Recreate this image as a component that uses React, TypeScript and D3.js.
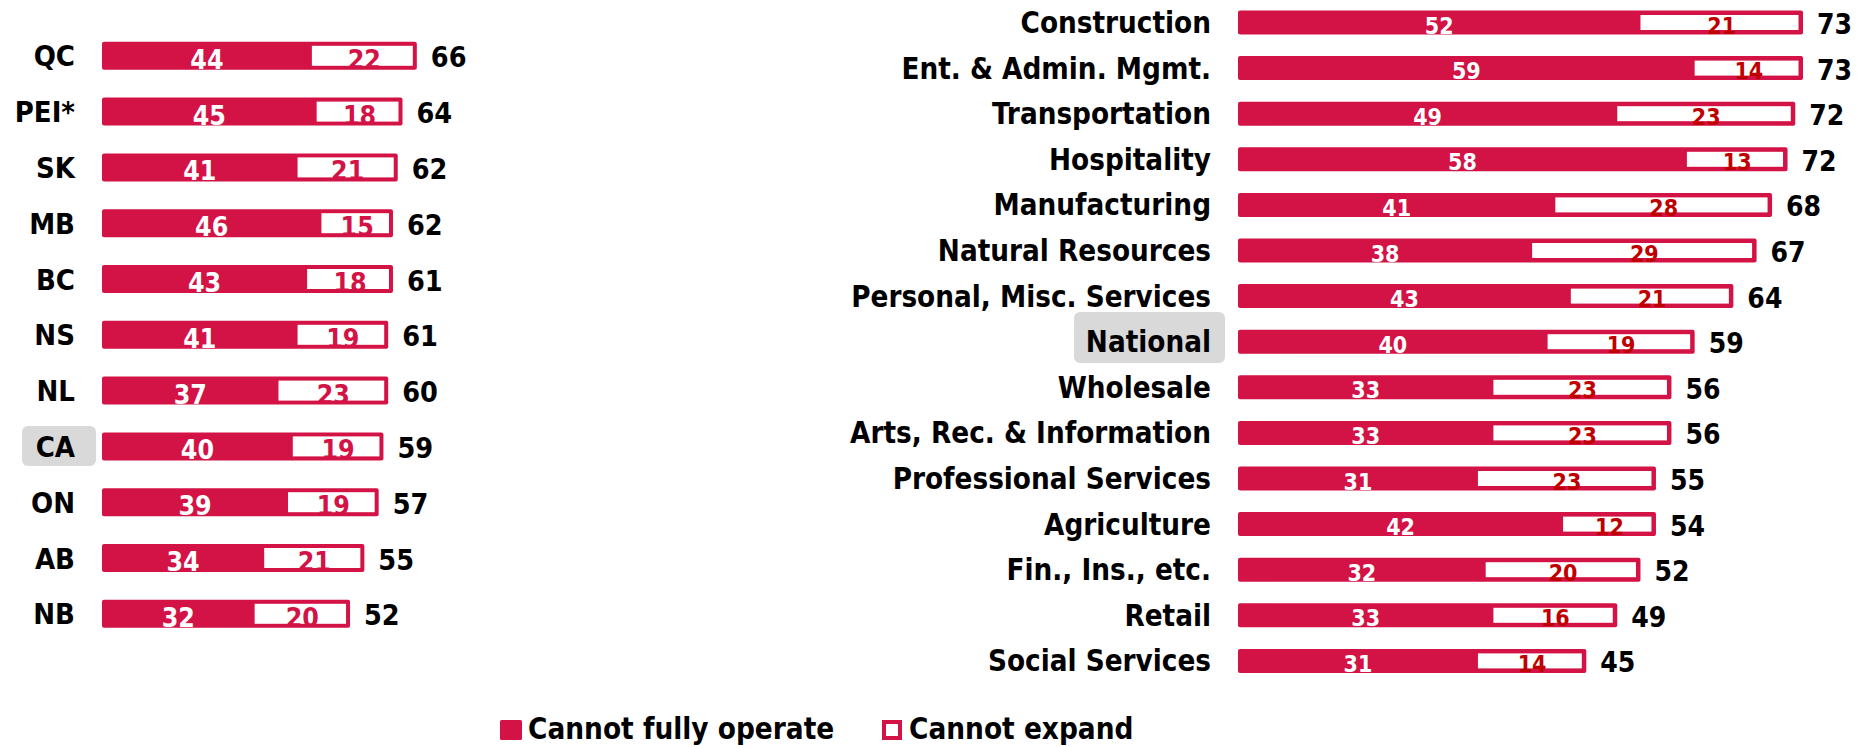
import React from 'react'
import * as d3 from 'd3'

// provinces (left panel)
const provinces = ['QC', 'PEI*', 'SK', 'MB', 'BC', 'NS', 'NL', 'CA', 'ON', 'AB', 'NB']
const provOperate = [44, 45, 41, 46, 43, 41, 37, 40, 39, 34, 32]
const provExpand = [22, 18, 21, 15, 18, 19, 23, 19, 19, 21, 20]
const provTotal = [66, 64, 62, 62, 61, 61, 60, 59, 57, 55, 52]

// sectors (right panel)
const sectors = [
  'Construction', 'Ent. & Admin. Mgmt.', 'Transportation', 'Hospitality', 'Manufacturing',
  'Natural Resources', 'Personal, Misc. Services', 'National', 'Wholesale',
  'Arts, Rec. & Information', 'Professional Services', 'Agriculture', 'Fin., Ins., etc.',
  'Retail', 'Social Services',
]
const secOperate = [52, 59, 49, 58, 41, 38, 43, 40, 33, 33, 31, 42, 32, 33, 31]
const secExpand = [21, 14, 23, 13, 28, 29, 21, 19, 23, 23, 23, 12, 20, 16, 14]
const secTotal = [73, 73, 72, 72, 68, 67, 64, 59, 56, 56, 55, 54, 52, 49, 45]

const legendLabels = ['Cannot fully operate', 'Cannot expand']

const CRIMSON = '#d31245'
const DARKRED = '#c00000'
const FONT = '"DejaVu Sans Condensed", "DejaVu Sans", Verdana, sans-serif'

function Panel({ cats, operate, expand, total, x, y, barH, inset, labelX, labelSize, valueSize, totalSize, innerColor, highlight }) {
  return (
    <g>
      {cats.map((c, i) => {
        const cy = y(i)
        const top = cy - barH / 2
        const xOp = x(operate[i])
        const xEnd = x(operate[i] + expand[i])
        return (
          <g key={c}>
            {c === highlight.name && (
              <rect x={highlight.x} y={highlight.y} width={highlight.w} height={highlight.h}
                rx={6} fill="#d9d9d9" />
            )}
            <text x={labelX} y={cy + 10.5} textAnchor="end" fontSize={labelSize}
              fontWeight="bold" fill="#000">{c}</text>
            <rect x={x(0)} y={top} width={xEnd - x(0)} height={barH} rx={2} fill={CRIMSON} />
            <rect x={xOp} y={top + inset} width={Math.max(0, xEnd - inset - xOp)}
              height={barH - inset * 2} fill="#fff" />
            <text x={(x(0) + xOp) / 2} y={cy + barH / 2 - 1} textAnchor="middle"
              fontSize={valueSize} fontWeight="bold" fill="#fff">{operate[i]}</text>
            <text x={(xOp + xEnd) / 2} y={cy + barH / 2 - 1} textAnchor="middle"
              fontSize={valueSize} fontWeight="bold" fill={innerColor}>{expand[i]}</text>
            <text x={xEnd + 14} y={cy + 11.5} fontSize={totalSize} fontWeight="bold"
              fill="#000">{total[i]}</text>
          </g>
        )
      })}
    </g>
  )
}

export default function App() {
  const W = 1860
  const H = 747

  const xL = d3.scaleLinear().domain([0, 100]).range([102, 579])
  const yL = d3.scaleLinear().domain([0, provinces.length - 1]).range([55.8, 55.8 + 55.8 * (provinces.length - 1)])

  const xR = d3.scaleLinear().domain([0, 100]).range([1238, 2012])
  const yR = d3.scaleLinear().domain([0, sectors.length - 1]).range([22.5, 22.5 + 45.6 * (sectors.length - 1)])

  return (
    <div style={{ position: 'absolute', left: 0, top: 0, width: W, height: H, background: '#fff' }}>
      <svg width={W} height={H} style={{ display: 'block', fontFamily: FONT, fontStretch: 'condensed' }}>
        <Panel cats={provinces} operate={provOperate} expand={provExpand} total={provTotal}
          x={xL} y={yL} barH={28} inset={4} labelX={75} labelSize={29} valueSize={26.5}
          totalSize={28.5} innerColor={CRIMSON}
          highlight={{ name: 'CA', x: 22, y: 426, w: 74, h: 40 }} />
        <Panel cats={sectors} operate={secOperate} expand={secExpand} total={secTotal}
          x={xR} y={yR} barH={24} inset={4.5} labelX={1211} labelSize={29.3} valueSize={23}
          totalSize={28} innerColor={DARKRED}
          highlight={{ name: 'National', x: 1074, y: 312, w: 151, h: 51 }} />

        <g>
          <rect x={500} y={720} width={22} height={20} rx={1.5} fill={CRIMSON} />
          <text x={528} y={739} fontSize={29.4} fontWeight="bold">{legendLabels[0]}</text>
          <rect x={884} y={722} width={16} height={16} fill="#fff" stroke={CRIMSON} strokeWidth={4} />
          <text x={909} y={739} fontSize={29.4} fontWeight="bold">{legendLabels[1]}</text>
        </g>
      </svg>
    </div>
  )
}
